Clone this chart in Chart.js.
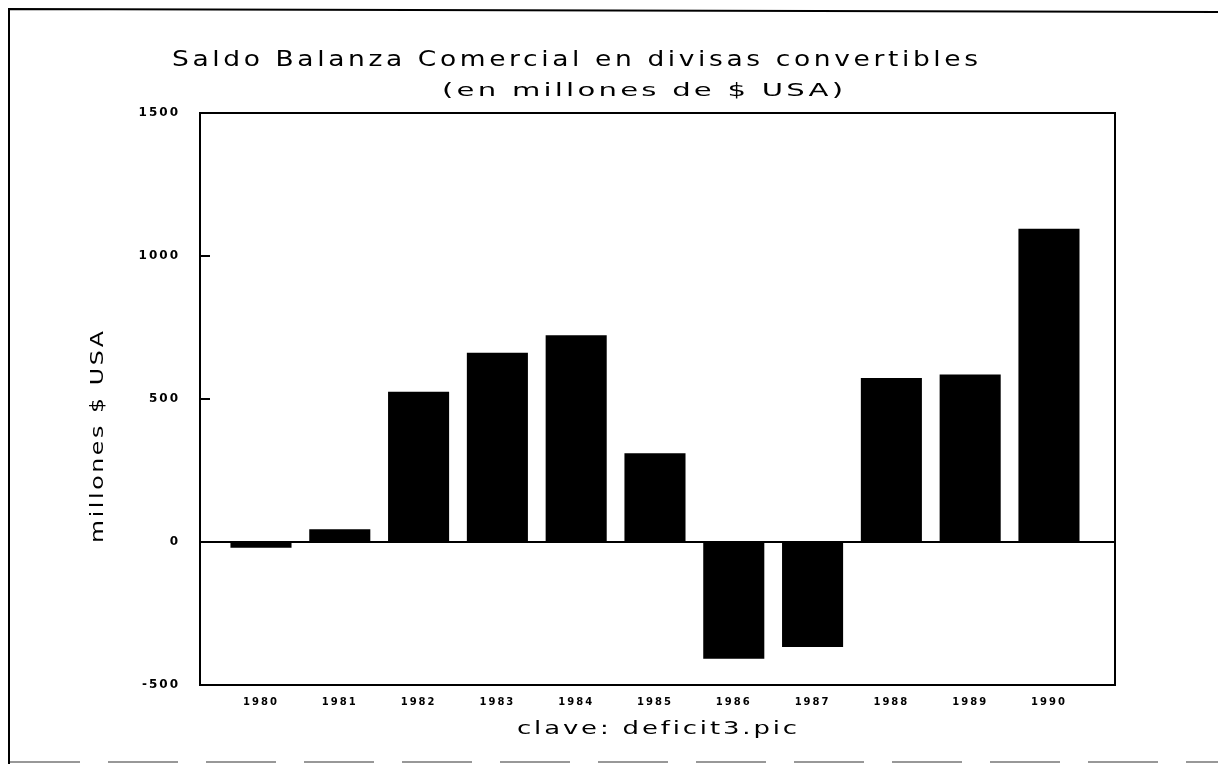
<!DOCTYPE html>
<html><head><meta charset="utf-8">
<script src="https://cdn.jsdelivr.net/npm/chart.js@4.4.1/dist/chart.umd.min.js"></script>
<style>
html,body{margin:0;padding:0;background:#fff;}
#wrap{position:relative;width:1218px;height:764px;overflow:hidden;background:#fff;}
canvas{position:absolute;left:0;top:0;}
</style></head><body>
<div id="wrap"><canvas id="c" width="1218" height="764"></canvas></div>
<script>
const years = [1980,1981,1982,1983,1984,1985,1986,1987,1988,1989,1990];
const values = [-20,45,525,662,723,310,-408,-367,573,586,1095];
const yTickValues = [-500,0,500,1000,1500];
const titleText = 'Saldo Balanza Comercial en divisas convertibles';
const subtitleText = '(en millones de $ USA)';
const xTitleText = 'clave: deficit3.pic';
const yTitleText = 'millones $ USA';

function spacedText(ctx, text, x, y, targetWidth, font, ls, align) {
  ctx.save();
  ctx.font = font;
  ctx.letterSpacing = ls + 'px';
  const w = ctx.measureText(text).width - ls;
  const sx = targetWidth / w;
  ctx.fillStyle = '#000';
  ctx.textBaseline = 'alphabetic';
  ctx.textAlign = 'left';
  let startX = x;
  if (align === 'center') startX = x - targetWidth / 2;
  ctx.translate(startX, y);
  ctx.scale(sx, 1);
  ctx.fillText(text, 0, 0);
  ctx.restore();
}

const decor = {
  id: 'decor',
  beforeDraw(chart) {
    const ctx = chart.ctx;
    ctx.save();
    ctx.fillStyle = '#fff';
    ctx.fillRect(0, 0, chart.width, chart.height);
    ctx.restore();
    ctx.letterSpacing = '2px';
  },
  afterDraw(chart) {
    const ctx = chart.ctx;
    const a = chart.chartArea;
    const ys = chart.scales.y;
    ctx.save();
    ctx.letterSpacing = '0px';
    ctx.strokeStyle = '#000';
    ctx.lineWidth = 2;
    ctx.strokeRect(a.left, a.top, a.right - a.left, a.bottom - a.top);
    yTickValues.forEach(v => {
      const py = ys.getPixelForValue(v);
      ctx.beginPath();
      ctx.moveTo(a.left, py);
      ctx.lineTo(a.left + 10, py);
      ctx.stroke();
    });
    ctx.beginPath();
    ctx.moveTo(9, 764);
    ctx.lineTo(9, 9);
    ctx.lineTo(1218, 12);
    ctx.stroke();
    ctx.strokeStyle = '#777';
    ctx.lineWidth = 1.5;
    ctx.setLineDash([70, 28]);
    ctx.beginPath();
    ctx.moveTo(10, 762);
    ctx.lineTo(1218, 762);
    ctx.stroke();
    ctx.setLineDash([]);
    ctx.restore();

    spacedText(ctx, titleText, 172, 66, 806, '22px "DejaVu Sans"', 3, 'left');
    spacedText(ctx, subtitleText, 442, 96, 401, '18px "DejaVu Sans"', 2, 'left');
    spacedText(ctx, xTitleText, 517, 734, 280, '18px "DejaVu Sans"', 2, 'left');
    ctx.save();
    ctx.translate(103, 437);
    ctx.rotate(-Math.PI / 2);
    spacedText(ctx, yTitleText, 0, 0, 212, '18px "DejaVu Sans"', 2, 'center');
    ctx.restore();
  }
};

const data = years.map((yr, i) => ({x: yr, y: values[i]}));

new Chart(document.getElementById('c'), {
  type: 'bar',
  data: {
    datasets: [{
      data: data,
      backgroundColor: '#000',
      borderWidth: 0,
      barPercentage: 0.775,
      categoryPercentage: 1
    }]
  },
  options: {
    responsive: false,
    animation: false,
    layout: {padding: {top: 113, right: 103, left: 0, bottom: 0}},
    plugins: {legend: {display: false}, title: {display: false}, tooltip: {enabled: false}},
    scales: {
      x: {
        type: 'linear',
        offset: false,
        min: 1979.226,
        max: 1990.838,
        afterBuildTicks(scale) { scale.ticks = years.map(v => ({value: v})); },
        afterFit(scale) { scale.height = 79; },
        grid: {display: false, drawTicks: false, offset: false},
        border: {display: true, color: '#000', width: 2},
        ticks: {
          color: '#000',
          padding: 11,
          maxRotation: 0,
          autoSkip: false,
          font: {family: '"DejaVu Sans"', size: 10, weight: 'bold'},
          callback: v => String(v)
        }
      },
      y: {
        min: -500,
        max: 1500,
        afterBuildTicks(scale) { scale.ticks = yTickValues.map(v => ({value: v})); },
        afterFit(scale) { scale.width = 200; },
        grid: {
          drawTicks: false,
          lineWidth: 2,
          color: c => (c.tick && c.tick.value === 0) ? '#000' : 'rgba(0,0,0,0)'
        },
        border: {display: true, color: '#000', width: 2},
        ticks: {
          color: '#000',
          padding: 20,
          font: {family: '"DejaVu Sans"', size: 12, weight: 'bold'},
          callback: v => String(v)
        }
      }
    }
  },
  plugins: [decor]
});
</script>
</body></html>
